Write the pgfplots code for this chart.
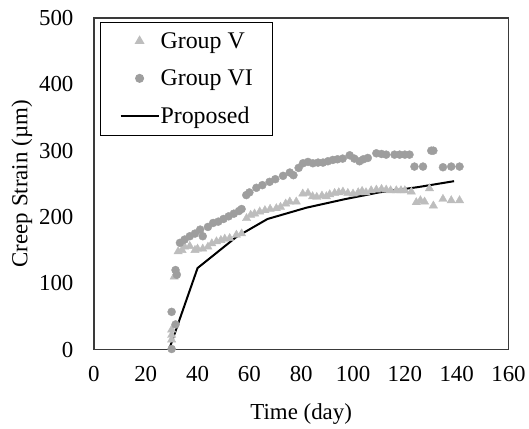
\documentclass[border=0pt]{standalone}
\usepackage{pgfplots}
\pgfplotsset{compat=1.18}
\usepackage{fontspec}
\setmainfont{Liberation Serif}
\definecolor{gv}{HTML}{BDBDBD}
\definecolor{gvi}{HTML}{9E9E9E}
\definecolor{fr}{HTML}{3A3A3A}
\pgfplotsset{
  legmark/.style={legend image code/.code={\draw[##1,mark repeat=2,mark phase=2] plot coordinates {(0bp,0)(19bp,0)(38bp,0)};}},
  legline/.style={legend image code/.code={\draw[##1] (0bp,0) -- (38bp,0);}},
}
\begin{document}
\begin{tikzpicture}
\begin{axis}[
  name=ax,
  scale only axis, width=415bp, height=332bp,
  xmin=0, xmax=160, ymin=0, ymax=500,
  xtick={0,20,...,160}, ytick={0,100,...,500},
  major tick length=0pt,
  axis line style={fr, line width=1.2pt},
  tick label style={font=\fontsize{23}{27}\selectfont},
  xticklabel style={yshift=-13bp},
  yticklabel style={xshift=-17bp},
  /pgf/number format/assume math mode=true,
  xlabel={Time (day)}, ylabel={Creep Strain (µm)},
  label style={font=\fontsize{23}{27}\selectfont},
  xlabel style={yshift=-15bp},
  ylabel style={yshift=0bp},
  legend cell align=left,
  legend style={at={(0.015,0.988)}, anchor=north west, draw=black, line width=1pt,
    font=\fontsize{24}{28}\selectfont, row sep=16bp, inner xsep=19bp, inner ysep=8bp,
    nodes={inner xsep=1bp}},
]
\addplot[only marks, mark=triangle*, mark size=4.8bp, color=gv, legmark]
coordinates {
(30,15)(30,22)(30,30)(31,110)(32.5,148)(34,150)(35,155)(37,156)(39,150)(40,152)(42,152)(44,155)(45.5,160)(47.3,163)(49,165)(50.5,167)(52.4,168)(55,173)(57,175)
(58.9,198)(60.5,203)(62,205)(64,208)(66,210)(68,212)(70.4,213)(72,215)(74,220)(75.6,223)(78.1,223)(80.6,235)(82.6,236)(84.4,231)(86,230)(88,232)(89.7,231)(91,234)(92.9,236)(94.5,237)(96.1,238)(98,236)(100,235)(102,237)(103.5,239)(105,237)(107,240)(109,241)(111,242)(112.8,241)(114.5,240)(116.7,240)(118.5,240)(120,240)(122.5,238)(124.4,222)(126,225)(127.6,223)(129.5,243)(131,217)(134.7,227)(137.9,225)(141.1,225)
};
\addlegendentry{Group V}
\addplot[only marks, mark=*, mark size=4bp, color=gvi, legmark]
coordinates {
(30,1)(30,57)(31.5,38)(31.5,120)(32,113)(33.2,161)(35,166)(37,171)(39,175)(41,181)(42,171)(44,185)(46,191)(48,193)(50,197)(52,201)(54,205)(56,209)(57,212)
(58.8,233)(60,237)(62.7,244)(65,248)(67.8,253)(70,257)(73,262)(75.6,267)(77,263)(79,274)(80.7,281)(82.6,283)(84.5,281)(86.5,282)(88.4,282)(90.3,284)(92.2,286)(94,287)(96,288)(98.7,293)(100.5,288)(102.5,284)(104,287)(105.7,289)(109,296)(111,295)(112.8,294)(116,294)(118,294)(120,294)(121.8,294)(123.7,276)(127,276)(130.2,300)(131,300)(134.7,275)(137.9,276)(141.1,276)
};
\addlegendentry{Group VI}
\addplot[black, line width=2pt, no marks, legline]
coordinates {
(29,0)(40,123)(55,170)(67,197)(82,214)(97,227)(110,237)(125,245)(139,254)
};
\addlegendentry{Proposed}
\end{axis}
\path ([xshift=-94bp,yshift=-79bp]ax.south west) rectangle ([xshift=20bp,yshift=18bp]ax.north east);
\end{tikzpicture}
\end{document}
